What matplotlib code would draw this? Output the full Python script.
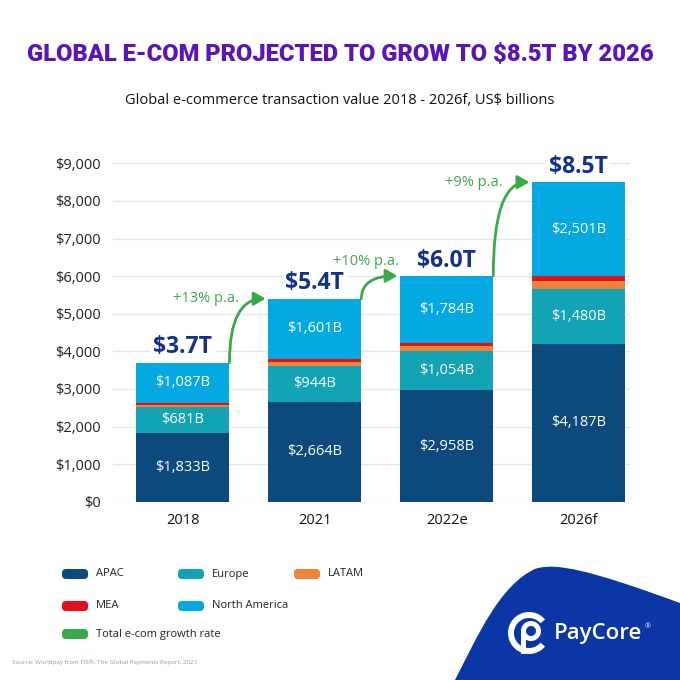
import matplotlib
matplotlib.use("Agg")
import matplotlib.pyplot as plt
from matplotlib.patches import FancyArrowPatch, FancyBboxPatch, PathPatch, Wedge, Rectangle
from matplotlib.path import Path

# data (US$ billions)
years = ["2018", "2021", "2022e", "2026f"]
apac = [1833, 2664, 2958, 4187]
europe = [681, 944, 1054, 1480]
latam = [60, 120, 140, 210]
mea = [40, 70, 70, 120]
north_america = [1087, 1601, 1784, 2501]
total_labels = ["$3.7T", "$5.4T", "$6.0T", "$8.5T"]
growth_labels = ["+13% p.a.", "+10% p.a.", "+9% p.a."]
yticks = [0, 1000, 2000, 3000, 4000, 5000, 6000, 7000, 8000, 9000]

C_APAC = "#0c4a7d"
C_EUR = "#12a3b4"
C_LATAM = "#f08336"
C_MEA = "#e1111b"
C_NA = "#05a9e1"
C_GREEN = "#3aaa48"
C_NAVY = "#12318f"

plt.rcParams["font.family"] = ["Open Sans", "DejaVu Sans"]

fig = plt.figure(figsize=(6.8, 6.8), dpi=100)

def fx(px):
    return px / 680

def fy(py):
    return 1 - py / 680

# main axes, placed in pixel terms
px_per_k = (501.7 - 163.3) / 9
ytop = 9450
ax = fig.add_axes([fx(113), fy(501.7), fx(630 - 113), (ytop / 1000 * px_per_k) / 680])

x = list(range(len(years)))
w = 0.706
bottoms = [0] * len(years)
series = [(apac, C_APAC, True), (europe, C_EUR, True), (latam, C_LATAM, False),
          (mea, C_MEA, False), (north_america, C_NA, True)]
for vals, col, show in series:
    bars = ax.bar(x, vals, w, bottom=bottoms, color=col, linewidth=0, zorder=2)
    if show:
        for b, v, b0 in zip(bars, vals, bottoms):
            ax.text(b.get_x() + w / 2, b0 + v / 2, f"${v:,}B", ha="center", va="center",
                    color="white", fontsize=10.5, zorder=4)
    bottoms = [b0 + v for b0, v in zip(bottoms, vals)]

totals = bottoms
for i, t in enumerate(totals):
    ax.annotate(total_labels[i], (i, t), xytext=(0, 11), textcoords="offset points",
                ha="center", va="center", fontsize=16.5, fontweight="bold", color=C_NAVY,
                bbox=dict(boxstyle="square,pad=0.15", fc="white", ec="none"), zorder=5)

# growth arrows
growth_offsets = [(7, 0), (27, 10), (7, 0)]
for i, lab in enumerate(growth_labels):
    start = (i + w / 2, totals[i])
    end = (i + 1 - w / 2 - 0.02, totals[i + 1])
    arr = FancyArrowPatch(start, end, connectionstyle="angle3,angleA=90,angleB=0",
                          arrowstyle="-|>,head_length=7,head_width=4", color=C_GREEN,
                          lw=2, shrinkA=0, shrinkB=0, zorder=6, clip_on=False)
    ax.add_patch(arr)
    ax.annotate(lab, (start[0], totals[i + 1]), xytext=growth_offsets[i],
                textcoords="offset points", ha="right", va="center",
                fontsize=10.5, color=C_GREEN, zorder=6)

ax.set_xlim(-0.53, 3.39)
ax.set_ylim(0, ytop)
ax.set_yticks(yticks)
ax.set_yticklabels([f"${v:,}" for v in yticks])
ax.set_xticks(x)
ax.set_xticklabels(years)
ax.tick_params(axis="y", length=0, pad=9, labelsize=10.5, labelcolor="#222222")
ax.tick_params(axis="x", length=0, pad=8, labelsize=10.5, labelcolor="#111111")
ax.grid(axis="y", color="#e6e6e6", linewidth=1)
ax.set_axisbelow(True)
for s in ax.spines.values():
    s.set_visible(False)

# title + subtitle
title = fig.text(0.5, fy(55), "GLOBAL E-COM PROJECTED TO GROW TO $8.5T BY 2026",
                 ha="center", va="center", fontsize=30, fontweight="heavy",
                 fontstretch="condensed", color="#5a14bd",
                 family=["Roboto", "DejaVu Sans"])
r = fig.canvas.get_renderer()
tw = title.get_window_extent(r).width
title.set_fontsize(30 * 627 / tw)
fig.text(0.5, fy(100), "Global e-commerce transaction value 2018 - 2026f, US$ billions",
         ha="center", va="center", fontsize=10.5, color="#111111")

# overlay in pixel coords for legend and logo
bg = fig.add_axes([0, 0, 1, 1], zorder=-1)
bg.set_xlim(0, 680)
bg.set_ylim(680, 0)
bg.axis("off")

legend_items = [("APAC", C_APAC), ("Europe", C_EUR), ("LATAM", C_LATAM),
                ("MEA", C_MEA), ("North America", C_NA), ("Total e-com growth rate", C_GREEN)]
legend_pos = [(62, 574), (178, 574), (294, 574), (62, 606), (178, 606), (62, 634)]
for (lab, col), (lx, ly) in zip(legend_items, legend_pos):
    bg.add_patch(FancyBboxPatch((lx, ly - 5), 26, 10, boxstyle="round,pad=0,rounding_size=4",
                                fc=col, ec="none"))
    bg.text(lx + 34, ly, lab, ha="left", va="center", fontsize=8, color="#222222")

fig.text(fx(12), fy(662), "Source: Worldpay from FIS\u00ae, The Global Payments Report, 2023",
         ha="left", va="center", fontsize=4.5, color="#999999")

# blue wave + PayCore logo
verts = [(455, 680), (478, 635), (500, 585), (535, 569),
         (555, 562), (590, 570), (680, 603), (680, 680), (455, 680)]
codes = [Path.MOVETO, Path.CURVE4, Path.CURVE4, Path.CURVE4,
         Path.CURVE4, Path.CURVE4, Path.CURVE4, Path.LINETO, Path.CLOSEPOLY]
bg.add_patch(PathPatch(Path(verts, codes), fc="#0b37a6", ec="none"))
bg.add_patch(Wedge((529, 633), 21, 40, 320, width=6, fc="white", ec="none"))
bg.add_patch(Wedge((531, 631), 10, 0, 360, width=5, fc="white", ec="none"))
bg.add_patch(Rectangle((521, 631), 5, 23, fc="white", ec="none"))
brand = bg.text(554, 633, "PayCore", ha="left", va="center", fontsize=16,
                fontweight="semibold", color="white")
bg.annotate("\u00ae", xy=(1.0, 0.8), xycoords=brand, xytext=(1.5, 0),
            textcoords="offset points", ha="left", va="center", fontsize=5, color="white")

fig.savefig("out.png", dpi=100)
